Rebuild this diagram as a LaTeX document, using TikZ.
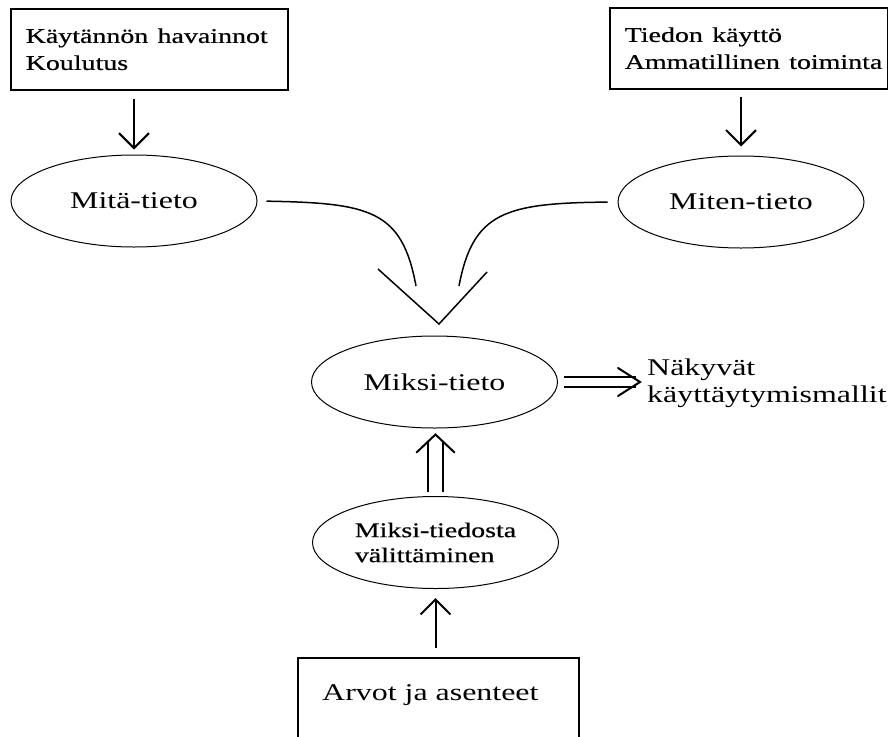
\documentclass[tikz,border=0pt]{standalone}
\usepackage{fontspec}
\setmainfont{Liberation Serif}
\newfontfamily\heavyserif[FakeBold=0.5]{Liberation Serif}
\usetikzlibrary{shapes.geometric,arrows.meta,calc}
% horizontally widened text
\newcommand{\sx}[1]{\scalebox{1.33}[1]{#1}}
\begin{document}
\begin{tikzpicture}[x=1pt,y=-1pt,
  box/.style={draw, line width=1.5pt, inner ysep=0pt, inner xsep=15pt, anchor=north west, align=left},
  oval/.style={draw, ellipse, line width=1pt, minimum width=246pt, minimum height=92pt, inner sep=0pt},
  big/.style={font=\fontsize{24}{27}\selectfont},
  small/.style={font=\heavyserif\fontsize{21}{27}\selectfont},
  arr/.style={line width=2pt, -{Straight Barb[length=15pt, width=30pt, line width=2pt]}},
  curve/.style={line width=1.5pt},
  dbl/.style={draw, double, line width=2pt},
  head/.style={line width=2pt, line join=miter, line cap=round}]
\useasboundingbox (0,0) rectangle (888,736);
\clip (0,0) rectangle (888,736);

% source boxes
\node[box, small, text width=247pt, minimum height=81pt] (b1) at (10,8)
  {\sx{Käytännön havainnot}\\\sx{Koulutus}};
\node[box, small, text width=248pt, minimum height=81pt] (b2) at (609,7)
  {\sx{Tiedon käyttö}\\\sx{Ammatillinen toiminta}};
\node[box, minimum width=281pt, minimum height=100pt, inner sep=0pt] (b3) at (297,657) {};
\node[big, anchor=base west, inner sep=0pt] (t3) at (322,700) {\sx{Arvot ja asenteet}};

% knowledge ellipses
\node[oval, big] (e1) at (134,201) {\sx{Mitä-tieto}};
\node[oval, big] (e2) at (741,202) {\sx{Miten-tieto}};
\node[oval, big] (e3) at (434.5,382) {\sx{Miksi-tieto}};
\node[oval, small, align=left, font=\heavyserif\fontsize{21}{25}\selectfont] (e4) at (435.5,542.5)
  {\sx{Miksi-tiedosta}\\\sx{välittäminen}};

% outcome text
\node[big, anchor=west, align=left, inner sep=0pt] (out) at (647,383)
  {\sx{Näkyvät}\\\sx{käyttäytymismallit}};

% single arrows
\draw[arr, shorten <=8pt, shorten >=5pt] (e1.north |- b1.south) -- (e1.north);
\draw[arr, shorten <=7pt, shorten >=9pt] (e2.north |- b2.south) -- (e2.north);
\draw[arr, shorten <=9pt, shorten >=9pt] (e4.south |- b3.north) -- (e4.south);

% merging curves and the open V
\coordinate (c1) at (416,286);
\coordinate (c2) at (459,286);
\draw[curve, shorten <=9pt] (e1.east) .. controls (370,203) and (402,210) .. (c1);
\draw[curve, shorten <=10pt] (e2.west) .. controls (505,203) and (473,212) .. (c2);
\coordinate (v1) at (378,269);
\coordinate (v2) at (439,324);
\coordinate (v3) at (487,272);
\draw[curve] (v1) -- (v2) -- (v3);

% double arrow to the outcome
\coordinate (rt) at (e3.east -| out.west);
\draw[dbl, double distance=8pt, shorten <=6pt, shorten >=11pt] (e3.east) -- (rt);
\draw[head] ($(rt)+(-29,-14)$) -- ($(rt)+(-7,0)$) -- ($(rt)+(-29,14)$);

% double arrow up into Miksi-tieto
\coordinate (ut) at (e4.north |- e3.south);
\draw[dbl, double distance=13pt, shorten <=4.5pt, shorten >=12pt] (e4.north) -- (ut);
\draw[head] ($(ut)+(-19,24)$) -- ($(ut)+(0,6)$) -- ($(ut)+(19,24)$);
\end{tikzpicture}
\end{document}
